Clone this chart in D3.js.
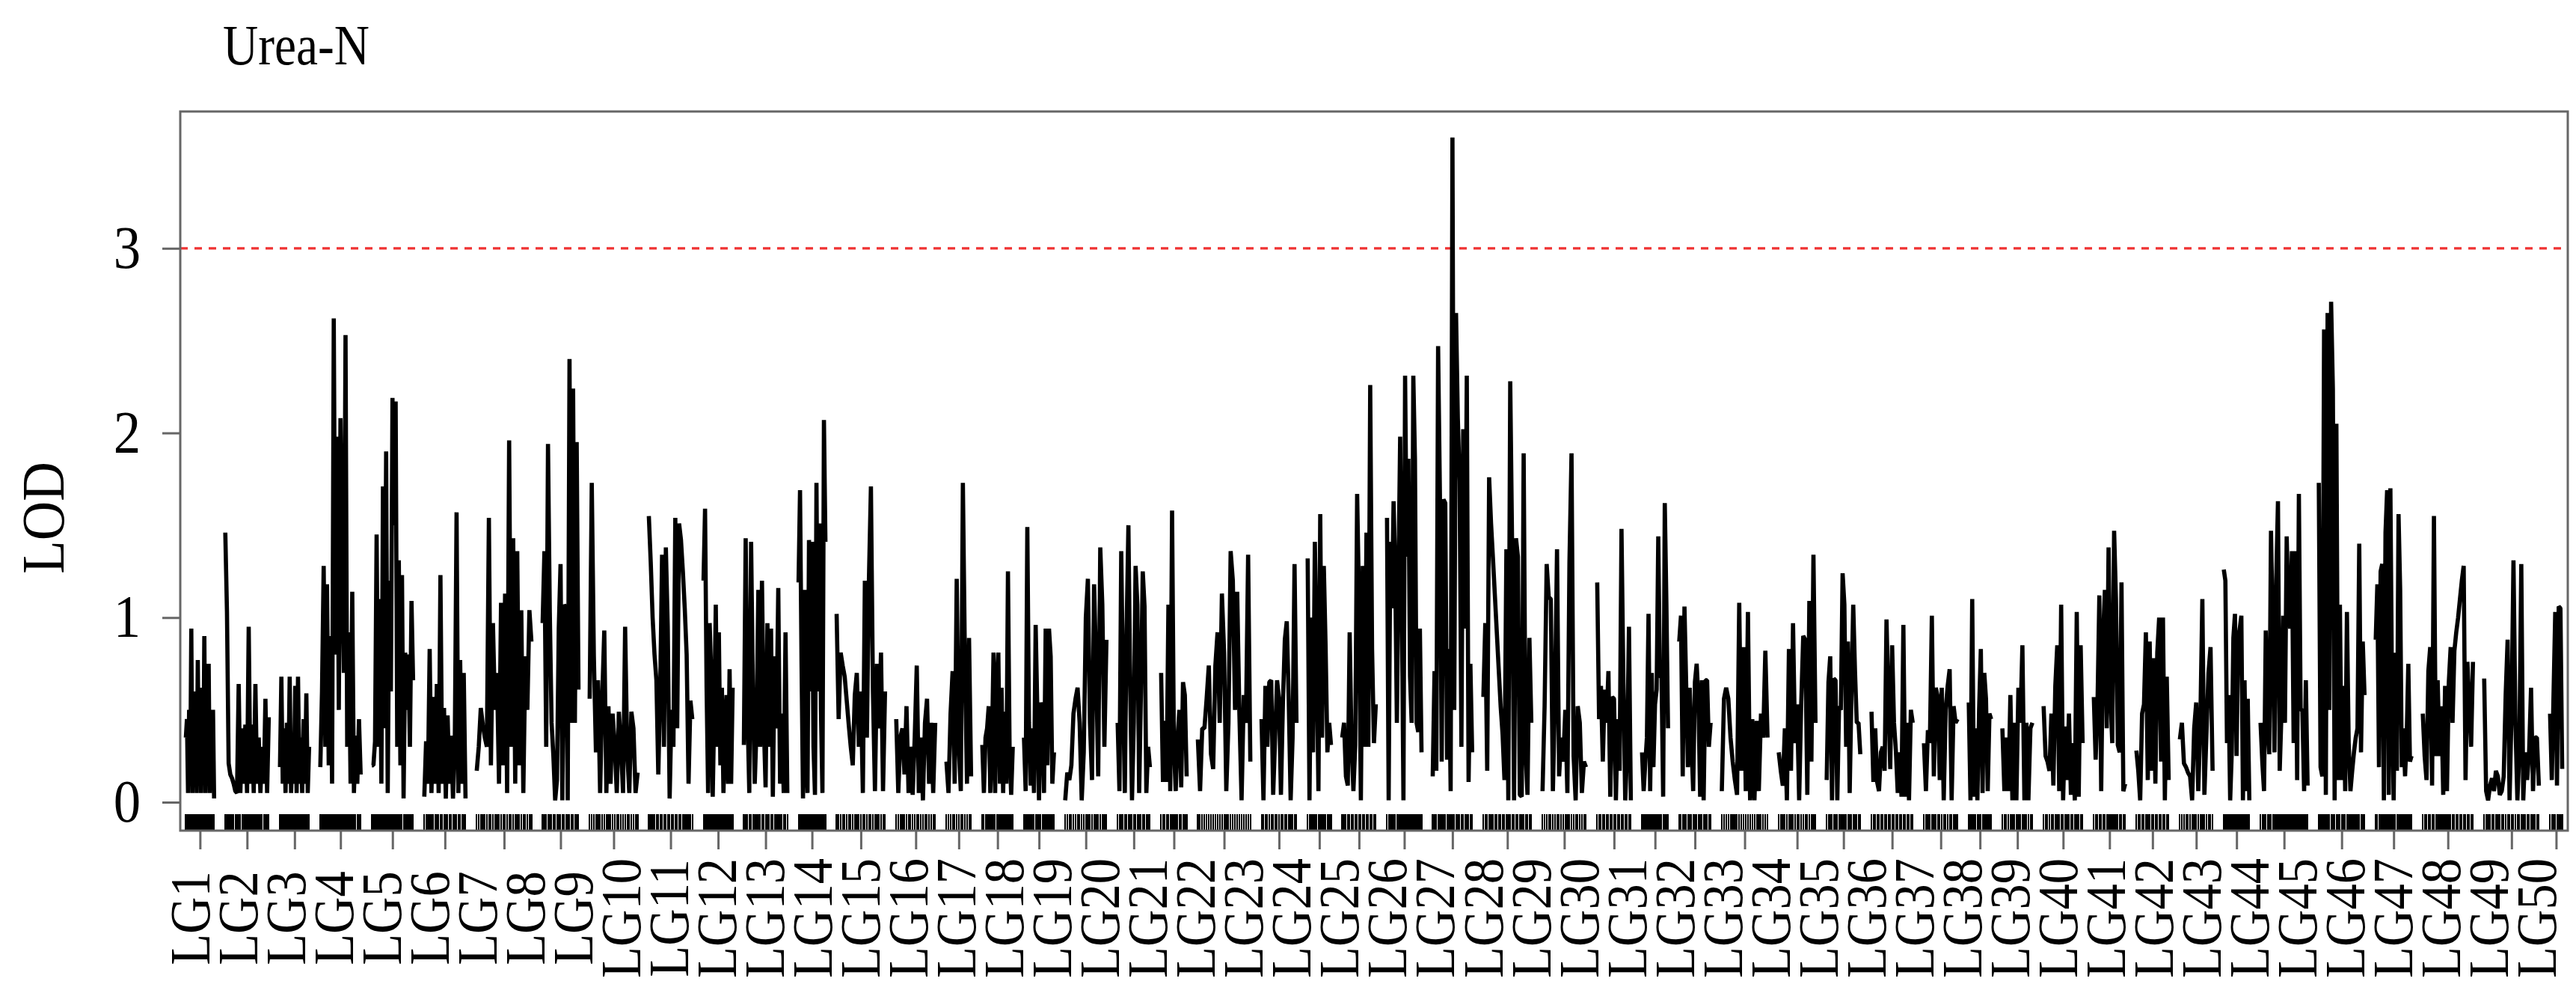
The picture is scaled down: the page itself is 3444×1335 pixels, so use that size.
<!DOCTYPE html>
<html>
<head>
<meta charset="utf-8">
<script src="https://cdnjs.cloudflare.com/ajax/libs/d3/7.8.5/d3.min.js"></script>
<style>
  body { margin: 0; background: #fff; }
  text { font-family: "Liberation Serif", "Times New Roman", serif; fill: #000; }
</style>
</head>
<body>
<svg id="chart"></svg>
<script>
// Chart title and axis label
const chartTitle = "Urea-N";
const yLabel = "LOD";

// Linkage group names (tick labels)
const groupNames = ["LG1","LG2","LG3","LG4","LG5","LG6","LG7","LG8","LG9","LG10",
  "LG11","LG12","LG13","LG14","LG15","LG16","LG17","LG18","LG19","LG20",
  "LG21","LG22","LG23","LG24","LG25","LG26","LG27","LG28","LG29","LG30",
  "LG31","LG32","LG33","LG34","LG35","LG36","LG37","LG38","LG39","LG40",
  "LG41","LG42","LG43","LG44","LG45","LG46","LG47","LG48","LG49","LG50"];

// Length of each linkage group (cM), gap between groups (cM)
const groupLengths = [63,97,65,90,92,92,122,80,107,97,
  65,97,60,108,87,55,68,67,92,72,
  57,117,78,52,75,77,88,107,97,75,
  58,70,102,82,75,92,75,50,67,87,
  70,72,73,57,105,102,80,112,122,27];
const gapCM = 25;

// LOD threshold and y ticks
const lodThreshold = 3;
const yTicks = [0, 1, 2, 3];

// LOD profile along each linkage group
const lodValues = [
  [0.35,0.45,0.05,0.5,0.1,0.94,0.05,0.55,0.1,0.6,0.05,0.77,0.1,0.6,0.05,0.62,0.1,0.9,0.05,0.6,0.1,0.75,0.05,0.5,0.1,0.5,0.02],
  [1.46,1.03,0.21,0.15,0.13,0.1,0.06,0.05,0.64,0.05,0.4,0.1,0.42,0.05,0.95,0.1,0.42,0.05,0.64,0.1,0.35,0.05,0.3,0.1,0.56,0.05,0.46],
  [0.19,0.68,0.1,0.4,0.05,0.43,0.1,0.68,0.05,0.3,0.1,0.63,0.05,0.68,0.1,0.35,0.05,0.45,0.1,0.59,0.05,0.3],
  [0.19,0.6,1.28,0.3,1.18,0.2,0.9,0.1,2.62,0.8,1.98,0.5,2.08,1.3,0.7,2.53,0.3,0.92,0.1,1.14,0.05,0.36,0.1,0.45,0.15],
  [0.2,0.2,0.33,1.45,0.3,1.1,0.1,1.71,0.4,1.9,0.05,1.2,0.6,2.19,1.5,2.17,0.3,1.31,0.2,1.23,0.02,0.81,0.5,0.8,0.3,1.09,0.66],
  [0.03,0.33,0.1,0.83,0.05,0.57,0.1,0.64,0.05,1.23,0.1,0.51,0.02,0.47,0.1,0.36,0.02,0.3,1.57,0.05,0.77,0.1,0.7,0.02],
  [0.17,0.3,0.51,0.42,0.35,0.3,1.54,0.2,0.97,0.5,0.7,0.1,1.08,0.2,1.13,0.05,1.96,0.3,1.43,0.1,1.36,0.2,1.04,0.05,0.79,0.5,1.04,0.87],
  [0.97,1.36,0.3,1.94,1.03,0.43,0.25,0.01,0.12,0.94,1.29,0.01,1.07,1.05,0.01,2.4,0.43,2.24,0.43,1.95,0.61],
  [0.56,1.73,0.79,0.27,0.66,0.05,0.56,0.93,0.05,0.52,0.1,0.48,0.31,0.05,0.49,0.3,0.05,0.95,0.27,0.05,0.49,0.4,0.05,0.16],
  [1.55,1.3,1.0,0.8,0.66,0.15,0.6,1.34,0.3,1.38,0.95,0.02,0.5,0.3,1.54,0.4,1.51,1.42,1.25,1.05,0.8,0.1,0.55,0.45],
  [1.2,1.59,0.62,0.05,0.97,0.7,0.03,0.5,1.07,0.3,0.92,0.2,0.62,0.05,0.4,0.58,0.1,0.72,0.1,0.62],
  [0.31,1.43,0.5,0.05,1.41,0.6,0.1,0.4,1.15,0.3,1.2,0.43,0.08,0.97,0.3,0.94,0.03,0.79,0.4,1.16,0.1,0.48,0.05,0.92,0.05],
  [1.19,1.69,0.76,0.02,1.15,0.3,0.05,1.42,0.6,1.41,0.3,0.04,1.73,0.6,1.51,0.5,0.05,2.07,1.41],
  [1.02,0.45,0.81,0.74,0.68,0.55,0.42,0.3,0.2,0.58,0.7,0.3,0.6,0.05,1.2,0.35,1.2,1.71,0.6,0.06,0.75,0.4,0.81,0.06,0.6],
  [0.45,0.05,0.35,0.4,0.15,0.52,0.05,0.3,0.04,0.35,0.74,0.05,0.35,0.01,0.43,0.56,0.1,0.43,0.05,0.43],
  [0.22,0.05,0.48,0.71,0.1,1.21,0.3,0.06,1.73,0.76,0.1,0.89,0.14],
  [0.31,0.05,0.35,0.4,0.52,0.05,0.3,0.81,0.05,0.63,0.81,0.1,0.62,0.05,0.49,0.1,1.25,0.3,0.04,0.3],
  [0.35,0.06,1.49,0.43,0.09,0.4,0.05,0.96,0.5,0.01,0.54,0.48,0.05,0.94,0.2,0.94,0.79,0.1,0.27],
  [0.01,0.16,0.12,0.2,0.48,0.56,0.62,0.43,0.01,0.27,1.0,1.21,0.43,0.12,1.18,0.74,0.14,1.38,1.07,0.3,0.88],
  [0.43,0.06,1.36,0.63,0.05,0.94,1.5,0.63,0.01,0.43,1.28,1.07,0.05,0.6,1.25,1.06,0.05,0.3,0.19],
  [0.7,0.11,0.44,0.11,1.07,0.06,1.58,0.3,0.06,0.35,0.5,0.08,0.65,0.58,0.14],
  [0.34,0.06,0.4,0.4,0.56,0.74,0.26,0.18,0.74,0.92,0.43,1.13,0.81,0.06,0.43,1.36,1.2,0.5,1.14,0.48,0.01,0.58,0.43,1.34,0.22],
  [0.45,0.01,0.63,0.3,0.65,0.66,0.04,0.35,0.66,0.56,0.04,0.53,0.88,0.98,0.56,0.01,0.35,1.29,0.43],
  [1.32,0.01,1.0,0.27,1.41,0.81,0.06,1.56,0.35,1.28,0.84,0.27,0.43,0.31],
  [0.35,0.43,0.14,0.09,0.92,0.32,0.06,0.31,1.67,1.09,0.01,1.28,0.3,1.46,0.3,2.26,0.83,0.32,0.53],
  [1.54,0.01,1.41,1.05,1.63,1.25,0.43,1.25,1.98,1.1,0.01,2.31,1.33,1.86,0.68,0.43,2.31,1.86,0.43,0.38,0.94,0.27],
  [0.14,0.71,0.17,2.47,1.67,0.22,1.64,1.62,0.23,0.83,0.06,3.6,0.5,2.65,2.08,1.74,0.3,2.02,0.94,2.31,0.11,0.75,0.27],
  [0.57,0.97,0.17,1.76,1.51,1.32,1.12,0.92,0.72,0.52,0.37,0.12,1.37,0.01,2.28,1.37,0.01,1.43,1.33,0.04,0.03,1.89,0.27,0.04,0.89,0.43],
  [0.06,0.52,1.29,1.11,1.1,0.06,0.56,1.37,0.14,0.35,0.22,0.5,0.05,1.3,1.89,0.25,0.01,0.52,0.43,0.05,0.22,0.19],
  [1.19,0.45,0.63,0.22,0.61,0.43,0.71,0.03,0.57,0.56,0.01,0.45,0.17,1.48,0.66,0.01,0.27,0.95,0.01],
  [0.27,0.06,0.21,0.35,1.02,0.06,0.7,0.19,0.53,0.61,1.44,0.68,0.68,0.03,1.62,1.07,0.4],
  [0.87,1.01,0.14,1.06,0.63,0.19,0.62,0.32,0.06,0.65,0.75,0.56,0.03,0.66,0.01,0.66,0.66,0.3,0.43],
  [0.06,0.56,0.62,0.56,0.35,0.22,0.12,0.04,1.08,0.17,0.84,0.06,1.03,0.01,0.45,0.01,0.44,0.06,0.48,0.35,0.82,0.35],
  [0.27,0.17,0.09,0.4,0.01,0.83,0.17,0.97,0.32,0.53,0.01,0.53,0.9,0.88,0.04,1.09,0.22,1.34,0.43],
  [0.12,0.65,0.79,0.01,0.67,0.66,0.01,0.52,0.5,1.24,1.07,0.3,0.87,0.05,0.59,1.07,0.71,0.43,0.43,0.26],
  [0.49,0.11,0.4,0.11,0.06,0.27,0.3,0.17,0.99,0.56,0.18,0.85,0.43,0.28,0.05,0.27,0.03,0.96,0.03,0.43,0.01,0.5,0.43],
  [0.32,0.06,0.39,0.32,1.01,0.14,0.62,0.57,0.12,0.62,0.01,0.5,0.63,0.72,0.01,0.52,0.43,0.45],
  [0.54,0.01,1.1,0.03,0.4,0.01,0.5,0.83,0.05,0.7,0.56,0.06,0.48,0.45],
  [0.4,0.06,0.35,0.06,0.58,0.01,0.43,0.01,0.62,0.43,0.85,0.01,0.43,0.01,0.4,0.43],
  [0.52,0.25,0.22,0.17,0.48,0.09,0.63,0.85,0.06,1.07,0.01,0.41,0.12,0.48,0.04,0.32,0.01,1.03,0.03,0.85,0.32],
  [0.57,0.23,0.53,1.12,0.06,0.89,1.15,0.4,1.38,0.58,0.32,1.47,1.1,0.31,0.27,1.19,0.06,0.1],
  [0.28,0.17,0.01,0.48,0.53,0.92,0.12,0.87,0.17,0.78,0.1,0.81,1.0,0.22,1.0,0.01,0.68,0.12],
  [0.34,0.43,0.21,0.19,0.16,0.14,0.01,0.4,0.54,0.06,0.43,1.1,0.04,0.37,0.7,0.84,0.17],
  [1.26,1.2,0.32,0.58,0.01,0.27,0.89,1.02,0.25,0.89,0.94,1.01,0.01,0.66,0.06,0.56,0.01],
  [0.43,0.22,0.06,0.93,0.43,0.26,1.47,0.94,0.27,1.2,1.63,0.17,0.48,1.01,0.43,1.44,1.05,0.94,1.36,0.32,1.36,0.12,1.67,0.5,0.5,0.06,0.66,0.09],
  [1.73,0.19,0.14,2.56,0.04,2.65,0.5,2.71,2.24,0.01,2.05,0.12,1.07,0.12,0.63,0.06,1.03,0.32,0.06,0.17,0.27,0.35,0.4,1.4,0.27,0.87,0.58],
  [0.88,1.18,0.19,1.25,1.29,0.01,1.46,1.69,0.04,1.7,0.58,0.01,0.81,0.17,1.56,1.15,0.19,0.4,0.14,0.35,0.75,0.22,0.25],
  [0.48,0.25,0.12,0.71,0.84,0.09,1.55,0.25,0.66,0.25,0.52,0.04,0.63,0.06,0.65,0.84,0.43,0.82,0.92,1.0,1.1,1.2,1.28,0.12,0.76,0.53,0.3,0.76],
  [0.67,0.06,0.01,0.09,0.13,0.06,0.17,0.14,0.04,0.06,0.14,0.58,0.88,0.01,0.48,1.31,0.43,0.01,0.27,1.29,0.01,0.27,0.12,0.27,0.62,0.06,0.35,0.35,0.09],
  [0.48,0.12,0.58,1.03,0.09,1.06,1.05,0.18]
];

// Layout
const width = 3444, height = 1335;
const plot = { left: 241, right: 3433, top: 149, bottom: 1110 };
const frameColor = "#666";
const textSqueeze = 0.91;   // the original lettering is slightly condensed

const svg = d3.select("#chart")
    .attr("width", width)
    .attr("height", height)
    .attr("viewBox", `0 0 ${width} ${height}`);

svg.append("rect").attr("width", width).attr("height", height).attr("fill", "#fff");

// Start of each group along the genome (cM)
let groupStarts = [];
let runningPos = 0;
groupLengths.forEach(len => {
    groupStarts.push(runningPos);
    runningPos += len + gapCM;
});
const genomeEnd = runningPos - gapCM;

const x = d3.scaleLinear()
    .domain([-gapCM / 2, genomeEnd + gapCM / 2])
    .range([plot.left, plot.right]);

const y = d3.scaleLinear()
    .domain([-0.154, 3.741])
    .range([plot.bottom, plot.top]);

// Turn each group's values into positioned points
const groups = lodValues.map((vals, i) => {
    const start = groupStarts[i], len = groupLengths[i];
    return vals.map((v, k) => ({ pos: start + len * k / (vals.length - 1), lod: v }));
});

// Threshold line
svg.append("line")
    .attr("x1", plot.left).attr("x2", plot.right)
    .attr("y1", y(lodThreshold)).attr("y2", y(lodThreshold))
    .attr("stroke", "#f03232")
    .attr("stroke-width", 3.2)
    .attr("stroke-dasharray", "10,9");

// LOD curves, one path per linkage group
const line = d3.line().x(d => x(d.pos)).y(d => y(d.lod));
svg.append("g")
    .selectAll("path")
    .data(groups)
    .enter().append("path")
    .attr("d", line)
    .attr("fill", "none")
    .attr("stroke", "#000")
    .attr("stroke-width", 5.6)
    .attr("stroke-linejoin", "bevel");

// Marker rug along the bottom
svg.append("g")
    .attr("shape-rendering", "crispEdges")
    .selectAll("line")
    .data(groups.flat())
    .enter().append("line")
    .attr("x1", d => x(d.pos)).attr("x2", d => x(d.pos))
    .attr("y1", plot.bottom - 22).attr("y2", plot.bottom)
    .attr("stroke", "#000")
    .attr("stroke-width", 2.1);

// Frame
svg.append("rect")
    .attr("x", plot.left).attr("y", plot.top)
    .attr("width", plot.right - plot.left)
    .attr("height", plot.bottom - plot.top)
    .attr("fill", "none")
    .attr("stroke", frameColor)
    .attr("stroke-width", 3);

// Y axis
const yAxis = svg.append("g")
    .attr("transform", `translate(${plot.left},0)`)
    .call(d3.axisLeft(y).tickValues(yTicks).tickSize(24).tickPadding(34).tickFormat(d3.format("d")));
yAxis.select(".domain").remove();
yAxis.selectAll(".tick line").attr("stroke", frameColor).attr("stroke-width", 3);
yAxis.selectAll(".tick text")
    .attr("font-family", "Liberation Serif, Times New Roman, serif")
    .attr("font-size", 80)
    .attr("fill", "#000")
    .attr("transform", `scale(${textSqueeze},1)`);

// X axis ticks at the middle of each linkage group
const groupMids = groupStarts.map((s, i) => s + groupLengths[i] / 2);
const xAxis = svg.append("g")
    .attr("transform", `translate(0,${plot.bottom})`)
    .call(d3.axisBottom(x).tickValues(groupMids).tickSize(25).tickFormat(""));
xAxis.select(".domain").remove();
xAxis.selectAll(".tick line").attr("stroke", frameColor).attr("stroke-width", 3);

// Group labels, evenly spaced below the axis
const labelX = d3.scalePoint().domain(groupNames).range([253, 3390]);
svg.append("g")
    .selectAll("text")
    .data(groupNames)
    .enter().append("text")
    .attr("transform", d => `translate(${labelX(d)},1227) rotate(-90) scale(0.89,1)`)
    .attr("text-anchor", "middle")
    .attr("dy", "0.35em")
    .attr("font-size", 77)
    .text(d => d);

// Y axis title
svg.append("text")
    .attr("transform", `translate(57,692) rotate(-90) scale(${textSqueeze},1)`)
    .attr("text-anchor", "middle")
    .attr("dy", "0.35em")
    .attr("font-size", 80)
    .text(yLabel);

// Chart title
svg.append("text")
    .attr("transform", "translate(298,86) scale(0.86,1)")
    .attr("font-size", 76)
    .text(chartTitle);
</script>
</body>
</html>
